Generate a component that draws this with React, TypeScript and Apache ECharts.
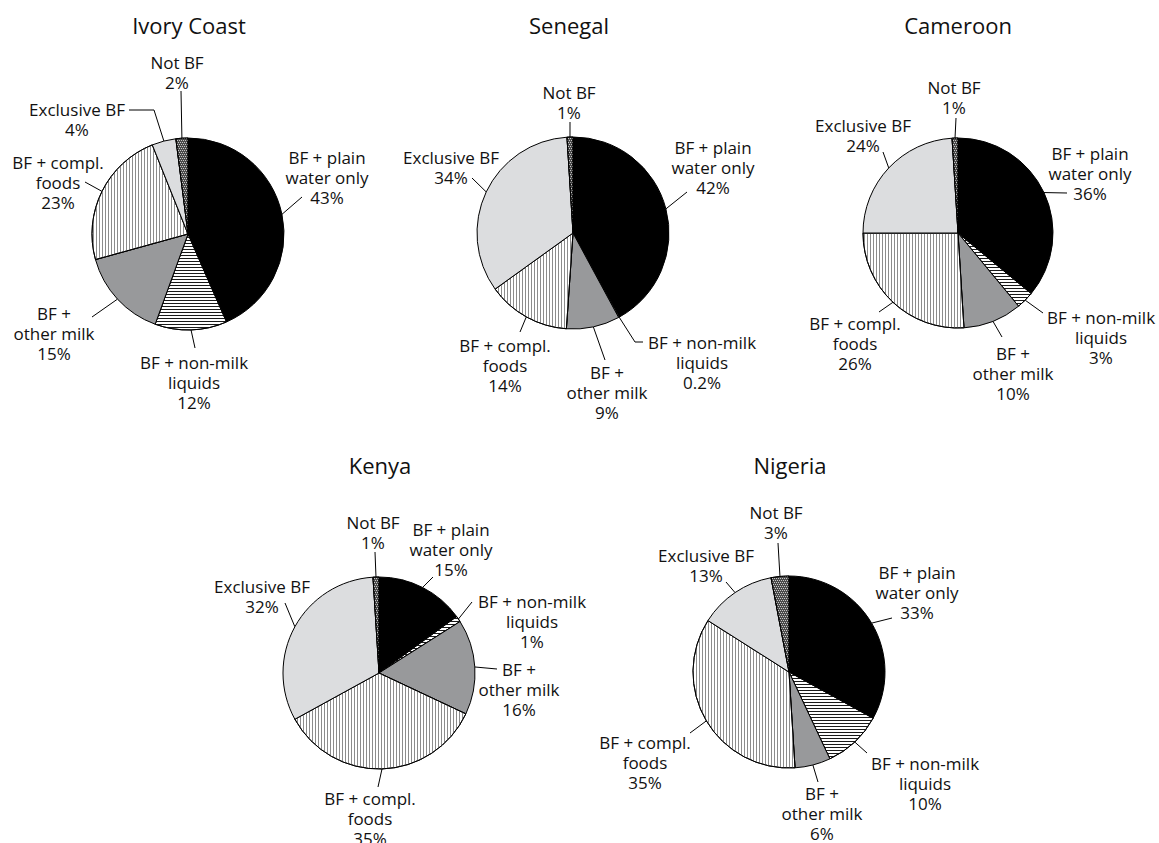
import { useEffect, useRef } from 'react';
import * as echarts from 'echarts';

// Feeding categories, in clockwise order from 12 o'clock
const categories = [
  'BF + plain\nwater only',
  'BF + non-milk\nliquids',
  'BF +\nother milk',
  'BF + compl.\nfoods',
  'Exclusive BF',
  'Not BF',
];

const countries = ['Ivory Coast', 'Senegal', 'Cameroon', 'Kenya', 'Nigeria'];

// Percentages per country, same order as categories
const ivoryCoast = [43, 12, 15, 23, 4, 2];
const senegal = [42, 0.2, 9, 14, 34, 1];
const cameroon = [36, 3, 10, 26, 24, 1];
const kenya = [15, 1, 16, 35, 32, 1];
const nigeria = [33, 10, 6, 35, 13, 3];

const countryValues = [ivoryCoast, senegal, cameroon, kenya, nigeria];

// Pie placement: [centerX, centerY, radius]
const pieBoxes = [
  [188, 234, 96],
  [573, 233, 96],
  [958, 233, 95],
  [379, 673, 96],
  [789, 672, 96],
];

const titleSpots = [
  [189, 25],
  [569, 25],
  [958, 25],
  [380, 465],
  [790, 465],
];

type LabelSpot = { x: number; y: number; line: number[][] };

// Label block centres and leader-line bends/ends per pie
const labelSpots: LabelSpot[][] = [
  [
    { x: 327, y: 177, line: [[302, 197]] },
    { x: 194, y: 382, line: [[195, 348]] },
    { x: 54, y: 333, line: [[92, 317]] },
    { x: 58, y: 182, line: [[85, 182]] },
    { x: 77, y: 119, line: [[154, 110], [129, 110]] },
    { x: 177, y: 72, line: [[181, 91]] },
  ],
  [
    { x: 713, y: 167, line: [[687, 192]] },
    { x: 702, y: 362, line: [[635, 342], [643, 342]] },
    { x: 607, y: 392, line: [[605, 360]] },
    { x: 505, y: 365, line: [[520, 332]] },
    { x: 451, y: 167, line: [[472, 178]] },
    { x: 569, y: 102, line: [[570, 122]] },
  ],
  [
    { x: 1090, y: 173, line: [[1067, 193]] },
    { x: 1101, y: 337, line: [[1043, 313]] },
    { x: 1013, y: 373, line: [[1002, 337]] },
    { x: 855, y: 343, line: [[879, 312]] },
    { x: 863, y: 135, line: [[883, 152]] },
    { x: 954, y: 97, line: [[956, 118]] },
  ],
  [
    { x: 451, y: 549, line: [[433, 577]] },
    { x: 532, y: 621, line: [[472, 602]] },
    { x: 519, y: 689, line: [[497, 669]] },
    { x: 370, y: 818, line: [[378, 787]] },
    { x: 262, y: 596, line: [[285, 603]] },
    { x: 373, y: 532, line: [[375, 552]] },
  ],
  [
    { x: 917, y: 592, line: [[892, 618]] },
    { x: 925, y: 783, line: [[867, 753]] },
    { x: 822, y: 813, line: [[818, 782]] },
    { x: 645, y: 762, line: [[690, 733]] },
    { x: 706, y: 565, line: [[726, 582]] },
    { x: 776, y: 522, line: [[778, 543]] },
  ],
];

const FONT = '"Open Sans", "Noto Sans", sans-serif';

// Fill for each category: solid greys and line/dot patterns
const sliceStyles = [
  { color: '#000000' },
  {
    color: '#ffffff',
    decal: { symbol: 'rect', symbolSize: 1, color: '#1a1a1a', dashArrayX: [1, 0], dashArrayY: [1, 2], rotation: 0 },
  },
  { color: '#98999b' },
  {
    color: '#ffffff',
    decal: { symbol: 'rect', symbolSize: 1, color: '#8c8c8c', dashArrayX: [1, 2], dashArrayY: [1, 0], rotation: 0 },
  },
  { color: '#dcdddf' },
  {
    color: '#4a4a4a',
    decal: { symbol: 'rect', symbolSize: 1, color: '#c8c8c8', dashArrayX: [[1, 1], [0, 1, 1, 0]], dashArrayY: [1, 1], rotation: 0 },
  },
];

export default function App() {
  const ref = useRef<HTMLDivElement>(null);

  useEffect(() => {
    if (!ref.current) return;
    document.body.style.margin = '0';
    const chart = echarts.init(ref.current, null, { renderer: 'svg' });

    const series = countryValues.map((values, ci) => {
      const [cx, cy, r] = pieBoxes[ci];
      const spots = labelSpots[ci];
      return {
        type: 'pie',
        center: [cx, cy],
        radius: r,
        startAngle: 90,
        clockwise: true,
        avoidLabelOverlap: false,
        emphasis: { disabled: true },
        itemStyle: { borderColor: '#000', borderWidth: 1 },
        label: {
          show: true,
          position: 'outside',
          color: '#111',
          fontFamily: FONT,
          fontSize: 17,
          lineHeight: 20,
          formatter: (p: any) => `${p.name}\n${p.value}%`,
        },
        labelLine: {
          show: true,
          length: 10,
          length2: 10,
          lineStyle: { color: '#000', width: 1 },
        },
        labelLayout: (params: any) => {
          const spot = spots[params.dataIndex];
          const p0 = params.labelLinePoints ? params.labelLinePoints[0] : spot.line[0];
          const p1 = spot.line[0];
          const p2 = spot.line[spot.line.length - 1];
          return {
            x: spot.x,
            y: spot.y,
            align: 'center',
            verticalAlign: 'middle',
            labelLinePoints: [p0, p1, p2],
          };
        },
        data: values.map((v, i) => ({
          value: v,
          name: categories[i],
          itemStyle: sliceStyles[i],
        })),
      };
    });

    chart.setOption({
      animation: false,
      backgroundColor: '#ffffff',
      tooltip: { show: false },
      graphic: countries.map((c, i) => ({
        type: 'text',
        x: titleSpots[i][0],
        y: titleSpots[i][1],
        silent: true,
        style: {
          text: c,
          fill: '#111',
          font: `22px ${FONT}`,
          align: 'center',
          verticalAlign: 'middle',
        },
      })),
      series,
    });

    return () => chart.dispose();
  }, []);

  return <div ref={ref} style={{ width: 1159, height: 843, background: '#fff' }} />;
}
